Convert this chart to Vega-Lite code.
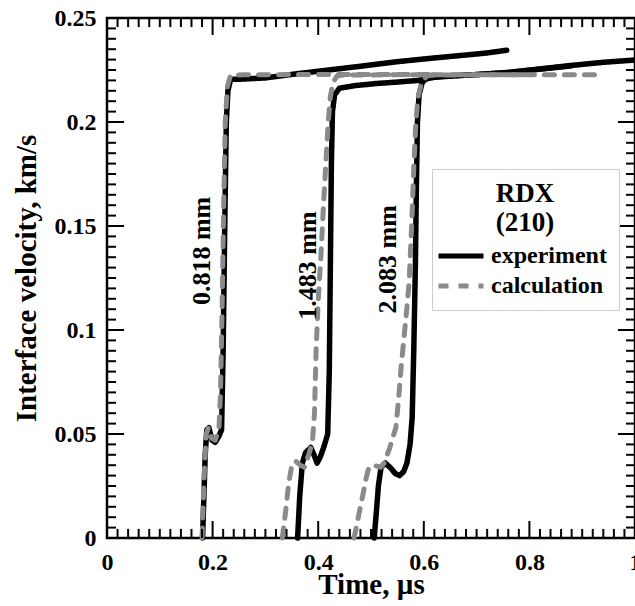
{
  "$schema": "https://vega.github.io/schema/vega-lite/v6.json",
  "width": 528,
  "height": 520,
  "autosize": {"type": "none"},
  "padding": {"left": 107, "top": 18, "right": 0, "bottom": 68},
  "background": "white",
  "config": {
    "font": "Liberation Serif",
    "view": {"stroke": "black", "strokeWidth": 2.5},
    "axis": {"labelColor": "black", "titleColor": "black", "labelFontWeight": "bold", "titleFontWeight": "bold", "labelFontSize": 24, "titleFontSize": 29, "labelFont": "Liberation Serif", "titleFont": "Liberation Serif"}
  },
  "datasets": {
    "xmajor": [{"t":0},{"t":0.2},{"t":0.4},{"t":0.6},{"t":0.8},{"t":1}],
    "xminor": [{"t":0.02},{"t":0.04},{"t":0.06},{"t":0.08},{"t":0.1},{"t":0.12},{"t":0.14},{"t":0.16},{"t":0.18},{"t":0.22},{"t":0.24},{"t":0.26},{"t":0.28},{"t":0.3},{"t":0.32},{"t":0.34},{"t":0.36},{"t":0.38},{"t":0.42},{"t":0.44},{"t":0.46},{"t":0.48},{"t":0.5},{"t":0.52},{"t":0.54},{"t":0.56},{"t":0.58},{"t":0.62},{"t":0.64},{"t":0.66},{"t":0.68},{"t":0.7},{"t":0.72},{"t":0.74},{"t":0.76},{"t":0.78},{"t":0.82},{"t":0.84},{"t":0.86},{"t":0.88},{"t":0.9},{"t":0.92},{"t":0.94},{"t":0.96},{"t":0.98}],
    "ymajor": [{"v":0},{"v":0.05},{"v":0.1},{"v":0.15},{"v":0.2},{"v":0.25}],
    "yminor": [{"v":0.005},{"v":0.01},{"v":0.015},{"v":0.02},{"v":0.025},{"v":0.03},{"v":0.035},{"v":0.04},{"v":0.045},{"v":0.055},{"v":0.06},{"v":0.065},{"v":0.07},{"v":0.075},{"v":0.08},{"v":0.085},{"v":0.09},{"v":0.095},{"v":0.105},{"v":0.11},{"v":0.115},{"v":0.12},{"v":0.125},{"v":0.13},{"v":0.135},{"v":0.14},{"v":0.145},{"v":0.155},{"v":0.16},{"v":0.165},{"v":0.17},{"v":0.175},{"v":0.18},{"v":0.185},{"v":0.19},{"v":0.195},{"v":0.205},{"v":0.21},{"v":0.215},{"v":0.22},{"v":0.225},{"v":0.23},{"v":0.235},{"v":0.24},{"v":0.245}],
    "curves": [
      {"t":0.181,"v":0,"type":"experiment","sample":"0.818 mm"},
      {"t":0.186,"v":0.04,"type":"experiment","sample":"0.818 mm"},
      {"t":0.189,"v":0.052,"type":"experiment","sample":"0.818 mm"},
      {"t":0.193,"v":0.053,"type":"experiment","sample":"0.818 mm"},
      {"t":0.199,"v":0.047,"type":"experiment","sample":"0.818 mm"},
      {"t":0.205,"v":0.046,"type":"experiment","sample":"0.818 mm"},
      {"t":0.212,"v":0.049,"type":"experiment","sample":"0.818 mm"},
      {"t":0.217,"v":0.052,"type":"experiment","sample":"0.818 mm"},
      {"t":0.220,"v":0.09,"type":"experiment","sample":"0.818 mm"},
      {"t":0.223,"v":0.15,"type":"experiment","sample":"0.818 mm"},
      {"t":0.226,"v":0.2,"type":"experiment","sample":"0.818 mm"},
      {"t":0.229,"v":0.215,"type":"experiment","sample":"0.818 mm"},
      {"t":0.234,"v":0.2205,"type":"experiment","sample":"0.818 mm"},
      {"t":0.245,"v":0.2205,"type":"experiment","sample":"0.818 mm"},
      {"t":0.30,"v":0.2212,"type":"experiment","sample":"0.818 mm"},
      {"t":0.36,"v":0.2232,"type":"experiment","sample":"0.818 mm"},
      {"t":0.42,"v":0.2250,"type":"experiment","sample":"0.818 mm"},
      {"t":0.48,"v":0.2268,"type":"experiment","sample":"0.818 mm"},
      {"t":0.55,"v":0.2290,"type":"experiment","sample":"0.818 mm"},
      {"t":0.62,"v":0.2308,"type":"experiment","sample":"0.818 mm"},
      {"t":0.68,"v":0.2322,"type":"experiment","sample":"0.818 mm"},
      {"t":0.72,"v":0.2332,"type":"experiment","sample":"0.818 mm"},
      {"t":0.757,"v":0.2345,"type":"experiment","sample":"0.818 mm"},

      {"t":0.361,"v":0,"type":"experiment","sample":"1.483 mm"},
      {"t":0.365,"v":0.02,"type":"experiment","sample":"1.483 mm"},
      {"t":0.370,"v":0.036,"type":"experiment","sample":"1.483 mm"},
      {"t":0.376,"v":0.041,"type":"experiment","sample":"1.483 mm"},
      {"t":0.386,"v":0.0435,"type":"experiment","sample":"1.483 mm"},
      {"t":0.392,"v":0.040,"type":"experiment","sample":"1.483 mm"},
      {"t":0.398,"v":0.036,"type":"experiment","sample":"1.483 mm"},
      {"t":0.404,"v":0.039,"type":"experiment","sample":"1.483 mm"},
      {"t":0.411,"v":0.044,"type":"experiment","sample":"1.483 mm"},
      {"t":0.418,"v":0.050,"type":"experiment","sample":"1.483 mm"},
      {"t":0.421,"v":0.08,"type":"experiment","sample":"1.483 mm"},
      {"t":0.423,"v":0.13,"type":"experiment","sample":"1.483 mm"},
      {"t":0.425,"v":0.18,"type":"experiment","sample":"1.483 mm"},
      {"t":0.427,"v":0.205,"type":"experiment","sample":"1.483 mm"},
      {"t":0.431,"v":0.213,"type":"experiment","sample":"1.483 mm"},
      {"t":0.44,"v":0.2162,"type":"experiment","sample":"1.483 mm"},
      {"t":0.47,"v":0.2175,"type":"experiment","sample":"1.483 mm"},
      {"t":0.51,"v":0.2185,"type":"experiment","sample":"1.483 mm"},
      {"t":0.55,"v":0.2192,"type":"experiment","sample":"1.483 mm"},
      {"t":0.59,"v":0.2200,"type":"experiment","sample":"1.483 mm"},
      {"t":0.62,"v":0.2215,"type":"experiment","sample":"1.483 mm"},
      {"t":0.66,"v":0.2222,"type":"experiment","sample":"1.483 mm"},
      {"t":0.70,"v":0.2228,"type":"experiment","sample":"1.483 mm"},
      {"t":0.76,"v":0.2238,"type":"experiment","sample":"1.483 mm"},
      {"t":0.82,"v":0.2254,"type":"experiment","sample":"1.483 mm"},
      {"t":0.88,"v":0.2270,"type":"experiment","sample":"1.483 mm"},

      {"t":0.506,"v":0,"type":"experiment","sample":"2.083 mm"},
      {"t":0.510,"v":0.012,"type":"experiment","sample":"2.083 mm"},
      {"t":0.514,"v":0.025,"type":"experiment","sample":"2.083 mm"},
      {"t":0.519,"v":0.034,"type":"experiment","sample":"2.083 mm"},
      {"t":0.527,"v":0.036,"type":"experiment","sample":"2.083 mm"},
      {"t":0.536,"v":0.034,"type":"experiment","sample":"2.083 mm"},
      {"t":0.546,"v":0.031,"type":"experiment","sample":"2.083 mm"},
      {"t":0.554,"v":0.030,"type":"experiment","sample":"2.083 mm"},
      {"t":0.562,"v":0.032,"type":"experiment","sample":"2.083 mm"},
      {"t":0.568,"v":0.036,"type":"experiment","sample":"2.083 mm"},
      {"t":0.574,"v":0.045,"type":"experiment","sample":"2.083 mm"},
      {"t":0.578,"v":0.058,"type":"experiment","sample":"2.083 mm"},
      {"t":0.581,"v":0.09,"type":"experiment","sample":"2.083 mm"},
      {"t":0.584,"v":0.13,"type":"experiment","sample":"2.083 mm"},
      {"t":0.586,"v":0.17,"type":"experiment","sample":"2.083 mm"},
      {"t":0.588,"v":0.2,"type":"experiment","sample":"2.083 mm"},
      {"t":0.591,"v":0.213,"type":"experiment","sample":"2.083 mm"},
      {"t":0.597,"v":0.219,"type":"experiment","sample":"2.083 mm"},
      {"t":0.607,"v":0.2215,"type":"experiment","sample":"2.083 mm"},
      {"t":0.65,"v":0.2222,"type":"experiment","sample":"2.083 mm"},
      {"t":0.70,"v":0.2228,"type":"experiment","sample":"2.083 mm"},
      {"t":0.76,"v":0.2238,"type":"experiment","sample":"2.083 mm"},
      {"t":0.82,"v":0.2255,"type":"experiment","sample":"2.083 mm"},
      {"t":0.88,"v":0.2272,"type":"experiment","sample":"2.083 mm"},
      {"t":0.94,"v":0.2287,"type":"experiment","sample":"2.083 mm"},
      {"t":1.0,"v":0.2298,"type":"experiment","sample":"2.083 mm"},

      {"t":0.180,"v":0,"type":"calculation","sample":"0.818 mm"},
      {"t":0.184,"v":0.03,"type":"calculation","sample":"0.818 mm"},
      {"t":0.188,"v":0.05,"type":"calculation","sample":"0.818 mm"},
      {"t":0.192,"v":0.053,"type":"calculation","sample":"0.818 mm"},
      {"t":0.198,"v":0.048,"type":"calculation","sample":"0.818 mm"},
      {"t":0.205,"v":0.047,"type":"calculation","sample":"0.818 mm"},
      {"t":0.212,"v":0.052,"type":"calculation","sample":"0.818 mm"},
      {"t":0.215,"v":0.07,"type":"calculation","sample":"0.818 mm"},
      {"t":0.218,"v":0.11,"type":"calculation","sample":"0.818 mm"},
      {"t":0.221,"v":0.16,"type":"calculation","sample":"0.818 mm"},
      {"t":0.224,"v":0.2,"type":"calculation","sample":"0.818 mm"},
      {"t":0.228,"v":0.217,"type":"calculation","sample":"0.818 mm"},
      {"t":0.234,"v":0.2225,"type":"calculation","sample":"0.818 mm"},
      {"t":0.26,"v":0.2227,"type":"calculation","sample":"0.818 mm"},
      {"t":0.35,"v":0.2228,"type":"calculation","sample":"0.818 mm"},
      {"t":0.45,"v":0.2228,"type":"calculation","sample":"0.818 mm"},
      {"t":0.55,"v":0.2228,"type":"calculation","sample":"0.818 mm"},
      {"t":0.62,"v":0.2228,"type":"calculation","sample":"0.818 mm"},

      {"t":0.332,"v":0,"type":"calculation","sample":"1.483 mm"},
      {"t":0.338,"v":0.012,"type":"calculation","sample":"1.483 mm"},
      {"t":0.344,"v":0.026,"type":"calculation","sample":"1.483 mm"},
      {"t":0.350,"v":0.035,"type":"calculation","sample":"1.483 mm"},
      {"t":0.357,"v":0.037,"type":"calculation","sample":"1.483 mm"},
      {"t":0.366,"v":0.035,"type":"calculation","sample":"1.483 mm"},
      {"t":0.374,"v":0.034,"type":"calculation","sample":"1.483 mm"},
      {"t":0.382,"v":0.040,"type":"calculation","sample":"1.483 mm"},
      {"t":0.389,"v":0.046,"type":"calculation","sample":"1.483 mm"},
      {"t":0.393,"v":0.06,"type":"calculation","sample":"1.483 mm"},
      {"t":0.396,"v":0.09,"type":"calculation","sample":"1.483 mm"},
      {"t":0.400,"v":0.114,"type":"calculation","sample":"1.483 mm"},
      {"t":0.405,"v":0.135,"type":"calculation","sample":"1.483 mm"},
      {"t":0.409,"v":0.155,"type":"calculation","sample":"1.483 mm"},
      {"t":0.414,"v":0.178,"type":"calculation","sample":"1.483 mm"},
      {"t":0.419,"v":0.2,"type":"calculation","sample":"1.483 mm"},
      {"t":0.423,"v":0.212,"type":"calculation","sample":"1.483 mm"},
      {"t":0.428,"v":0.219,"type":"calculation","sample":"1.483 mm"},
      {"t":0.436,"v":0.2222,"type":"calculation","sample":"1.483 mm"},
      {"t":0.45,"v":0.2226,"type":"calculation","sample":"1.483 mm"},
      {"t":0.55,"v":0.2227,"type":"calculation","sample":"1.483 mm"},
      {"t":0.65,"v":0.2227,"type":"calculation","sample":"1.483 mm"},
      {"t":0.80,"v":0.2227,"type":"calculation","sample":"1.483 mm"},

      {"t":0.468,"v":0,"type":"calculation","sample":"2.083 mm"},
      {"t":0.476,"v":0.01,"type":"calculation","sample":"2.083 mm"},
      {"t":0.484,"v":0.02,"type":"calculation","sample":"2.083 mm"},
      {"t":0.491,"v":0.029,"type":"calculation","sample":"2.083 mm"},
      {"t":0.496,"v":0.034,"type":"calculation","sample":"2.083 mm"},
      {"t":0.505,"v":0.035,"type":"calculation","sample":"2.083 mm"},
      {"t":0.518,"v":0.034,"type":"calculation","sample":"2.083 mm"},
      {"t":0.525,"v":0.036,"type":"calculation","sample":"2.083 mm"},
      {"t":0.535,"v":0.043,"type":"calculation","sample":"2.083 mm"},
      {"t":0.547,"v":0.053,"type":"calculation","sample":"2.083 mm"},
      {"t":0.552,"v":0.066,"type":"calculation","sample":"2.083 mm"},
      {"t":0.557,"v":0.082,"type":"calculation","sample":"2.083 mm"},
      {"t":0.562,"v":0.095,"type":"calculation","sample":"2.083 mm"},
      {"t":0.567,"v":0.108,"type":"calculation","sample":"2.083 mm"},
      {"t":0.572,"v":0.122,"type":"calculation","sample":"2.083 mm"},
      {"t":0.577,"v":0.15,"type":"calculation","sample":"2.083 mm"},
      {"t":0.581,"v":0.178,"type":"calculation","sample":"2.083 mm"},
      {"t":0.585,"v":0.2,"type":"calculation","sample":"2.083 mm"},
      {"t":0.589,"v":0.212,"type":"calculation","sample":"2.083 mm"},
      {"t":0.596,"v":0.219,"type":"calculation","sample":"2.083 mm"},
      {"t":0.606,"v":0.2222,"type":"calculation","sample":"2.083 mm"},
      {"t":0.62,"v":0.2226,"type":"calculation","sample":"2.083 mm"},
      {"t":0.75,"v":0.2227,"type":"calculation","sample":"2.083 mm"},
      {"t":0.93,"v":0.2227,"type":"calculation","sample":"2.083 mm"}
    ],
    "labels": [
      {"t":0.179,"v":0.138,"label":"0.818 mm"},
      {"t":0.381,"v":0.131,"label":"1.483 mm"},
      {"t":0.532,"v":0.134,"label":"2.083 mm"}
    ]
  },
  "resolve": {"axis": {"x": "independent", "y": "independent"}},
  "layer": [
    {
      "data": {"name": "curves"},
      "transform": [{"filter": "datum.type === 'experiment'"}],
      "mark": {"type": "line", "strokeWidth": 5.5, "strokeCap": "round", "strokeJoin": "round"},
      "encoding": {
        "x": {"field": "t", "type": "quantitative", "scale": {"domain": [0, 1], "nice": false, "zero": false},
          "axis": {"orient": "bottom", "ticks": false, "domain": false, "grid": false, "values": [0, 0.2, 0.4, 0.6, 0.8, 1], "format": "~g",
            "labelPadding": 12, "labelFlush": false, "labelOverlap": false, "title": "Time, µs", "titleBaseline": "alphabetic", "titleY": 55}},
        "y": {"field": "v", "type": "quantitative", "scale": {"domain": [0, 0.25], "nice": false, "zero": false},
          "axis": {"orient": "left", "ticks": false, "domain": false, "grid": false, "values": [0, 0.05, 0.1, 0.15, 0.2, 0.25], "format": "~g",
            "labelPadding": 11, "labelFlush": false, "labelOverlap": false, "title": "Interface velocity, km/s", "titleBaseline": "alphabetic", "titleX": -72}},
        "detail": {"field": "sample"},
        "color": {"field": "type", "type": "nominal", "scale": {"domain": ["experiment", "calculation"], "range": ["#000000", "#8a8a8a"]},
          "legend": {"title": ["RDX", "(210)"], "orient": "none", "legendX": 325, "legendY": 151, "direction": "vertical", "symbolType": "M-3,0H3", "symbolSize": 225, "symbolStrokeWidth": 5, "symbolOffset": 5, "labelFontSize": 24, "labelFontWeight": "bold", "labelFont": "Liberation Serif", "labelColor": "black", "labelOffset": 18, "titleFontSize": 27, "titleFontWeight": "bold", "titleFont": "Liberation Serif", "titleColor": "black", "titleAnchor": "middle", "titleAlign": "center", "titleLineHeight": 29, "titlePadding": 7, "padding": 12, "rowPadding": 6, "strokeColor": "#cccccc", "fillColor": "white"}},
        "strokeDash": {"field": "type", "type": "nominal", "scale": {"domain": ["experiment", "calculation"], "range": [[1, 0], [10, 10]]},
          "legend": {"title": ["RDX", "(210)"], "orient": "none", "legendX": 325, "legendY": 151, "direction": "vertical", "symbolType": "M-3,0H3", "symbolSize": 225, "symbolStrokeWidth": 5, "symbolOffset": 5, "labelFontSize": 24, "labelFontWeight": "bold", "labelFont": "Liberation Serif", "labelColor": "black", "labelOffset": 18, "titleFontSize": 27, "titleFontWeight": "bold", "titleFont": "Liberation Serif", "titleColor": "black", "titleAnchor": "middle", "titleAlign": "center", "titleLineHeight": 29, "titlePadding": 7, "padding": 12, "rowPadding": 6, "strokeColor": "#cccccc", "fillColor": "white"}}
      }
    },
    {
      "data": {"name": "curves"},
      "transform": [{"filter": "datum.type === 'calculation'"}],
      "mark": {"type": "line", "strokeWidth": 5, "strokeCap": "round", "strokeJoin": "round"},
      "encoding": {
        "x": {"field": "t", "type": "quantitative", "scale": {"domain": [0, 1], "nice": false, "zero": false}, "axis": null},
        "y": {"field": "v", "type": "quantitative", "scale": {"domain": [0, 0.25], "nice": false, "zero": false}, "axis": null},
        "detail": {"field": "sample"},
        "color": {"field": "type", "type": "nominal", "scale": {"domain": ["experiment", "calculation"], "range": ["#000000", "#8a8a8a"]},
          "legend": {"title": ["RDX", "(210)"], "orient": "none", "legendX": 325, "legendY": 151, "direction": "vertical", "symbolType": "M-3,0H3", "symbolSize": 225, "symbolStrokeWidth": 5, "symbolOffset": 5, "labelFontSize": 24, "labelFontWeight": "bold", "labelFont": "Liberation Serif", "labelColor": "black", "labelOffset": 18, "titleFontSize": 27, "titleFontWeight": "bold", "titleFont": "Liberation Serif", "titleColor": "black", "titleAnchor": "middle", "titleAlign": "center", "titleLineHeight": 29, "titlePadding": 7, "padding": 12, "rowPadding": 6, "strokeColor": "#cccccc", "fillColor": "white"}},
        "strokeDash": {"field": "type", "type": "nominal", "scale": {"domain": ["experiment", "calculation"], "range": [[1, 0], [10, 10]]},
          "legend": {"title": ["RDX", "(210)"], "orient": "none", "legendX": 325, "legendY": 151, "direction": "vertical", "symbolType": "M-3,0H3", "symbolSize": 225, "symbolStrokeWidth": 5, "symbolOffset": 5, "labelFontSize": 24, "labelFontWeight": "bold", "labelFont": "Liberation Serif", "labelColor": "black", "labelOffset": 18, "titleFontSize": 27, "titleFontWeight": "bold", "titleFont": "Liberation Serif", "titleColor": "black", "titleAnchor": "middle", "titleAlign": "center", "titleLineHeight": 29, "titlePadding": 7, "padding": 12, "rowPadding": 6, "strokeColor": "#cccccc", "fillColor": "white"}}
      }
    },
    {
      "data": {"name": "labels"},
      "mark": {"type": "text", "angle": 270, "fontSize": 26, "fontWeight": "bold", "font": "Liberation Serif", "align": "center", "baseline": "middle", "color": "black"},
      "encoding": {
        "x": {"field": "t", "type": "quantitative", "scale": {"domain": [0, 1], "nice": false, "zero": false}, "axis": null},
        "y": {"field": "v", "type": "quantitative", "scale": {"domain": [0, 0.25], "nice": false, "zero": false}, "axis": null},
        "text": {"field": "label", "type": "nominal"}
      }
    },
    {
      "data": {"name": "xmajor"},
      "mark": {"type": "tick", "orient": "vertical", "size": 17, "thickness": 2, "color": "black", "opacity": 1},
      "encoding": {
        "x": {"field": "t", "type": "quantitative", "scale": {"domain": [0, 1], "nice": false, "zero": false}, "axis": null},
        "y": {"datum": 0.0041, "type": "quantitative", "scale": {"domain": [0, 0.25], "nice": false, "zero": false}, "axis": null}
      }
    },
    {
      "data": {"name": "xmajor"},
      "mark": {"type": "tick", "orient": "vertical", "size": 17, "thickness": 2, "color": "black", "opacity": 1},
      "encoding": {
        "x": {"field": "t", "type": "quantitative", "scale": {"domain": [0, 1], "nice": false, "zero": false}, "axis": null},
        "y": {"datum": 0.2459, "type": "quantitative", "scale": {"domain": [0, 0.25], "nice": false, "zero": false}, "axis": null}
      }
    },
    {
      "data": {"name": "xminor"},
      "mark": {"type": "tick", "orient": "vertical", "size": 9, "thickness": 2, "color": "black", "opacity": 1},
      "encoding": {
        "x": {"field": "t", "type": "quantitative", "scale": {"domain": [0, 1], "nice": false, "zero": false}, "axis": null},
        "y": {"datum": 0.0022, "type": "quantitative", "scale": {"domain": [0, 0.25], "nice": false, "zero": false}, "axis": null}
      }
    },
    {
      "data": {"name": "xminor"},
      "mark": {"type": "tick", "orient": "vertical", "size": 9, "thickness": 2, "color": "black", "opacity": 1},
      "encoding": {
        "x": {"field": "t", "type": "quantitative", "scale": {"domain": [0, 1], "nice": false, "zero": false}, "axis": null},
        "y": {"datum": 0.2478, "type": "quantitative", "scale": {"domain": [0, 0.25], "nice": false, "zero": false}, "axis": null}
      }
    },
    {
      "data": {"name": "ymajor"},
      "mark": {"type": "tick", "orient": "horizontal", "size": 17, "thickness": 2, "color": "black", "opacity": 1},
      "encoding": {
        "x": {"datum": 0.0161, "type": "quantitative", "scale": {"domain": [0, 1], "nice": false, "zero": false}, "axis": null},
        "y": {"field": "v", "type": "quantitative", "scale": {"domain": [0, 0.25], "nice": false, "zero": false}, "axis": null}
      }
    },
    {
      "data": {"name": "ymajor"},
      "mark": {"type": "tick", "orient": "horizontal", "size": 17, "thickness": 2, "color": "black", "opacity": 1},
      "encoding": {
        "x": {"datum": 0.9839, "type": "quantitative", "scale": {"domain": [0, 1], "nice": false, "zero": false}, "axis": null},
        "y": {"field": "v", "type": "quantitative", "scale": {"domain": [0, 0.25], "nice": false, "zero": false}, "axis": null}
      }
    },
    {
      "data": {"name": "yminor"},
      "mark": {"type": "tick", "orient": "horizontal", "size": 9, "thickness": 2, "color": "black", "opacity": 1},
      "encoding": {
        "x": {"datum": 0.0085, "type": "quantitative", "scale": {"domain": [0, 1], "nice": false, "zero": false}, "axis": null},
        "y": {"field": "v", "type": "quantitative", "scale": {"domain": [0, 0.25], "nice": false, "zero": false}, "axis": null}
      }
    },
    {
      "data": {"name": "yminor"},
      "mark": {"type": "tick", "orient": "horizontal", "size": 9, "thickness": 2, "color": "black", "opacity": 1},
      "encoding": {
        "x": {"datum": 0.9915, "type": "quantitative", "scale": {"domain": [0, 1], "nice": false, "zero": false}, "axis": null},
        "y": {"field": "v", "type": "quantitative", "scale": {"domain": [0, 0.25], "nice": false, "zero": false}, "axis": null}
      }
    }
  ]
}
